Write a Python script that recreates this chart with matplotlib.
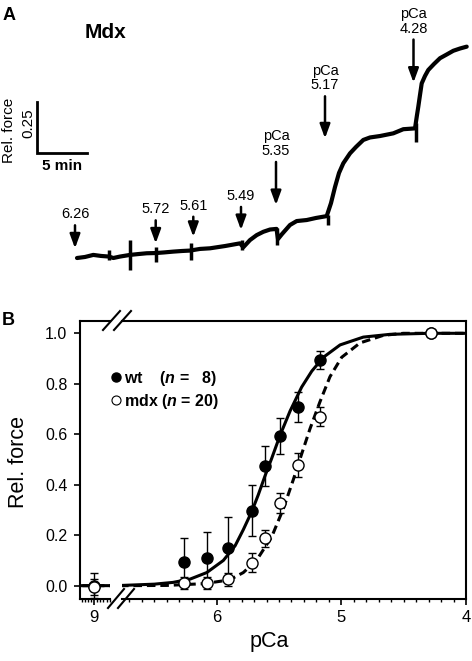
import matplotlib.pyplot as plt
from matplotlib.lines import Line2D
from matplotlib.ticker import FixedLocator, MultipleLocator

plt.rcParams["font.family"] = ["Liberation Sans", "DejaVu Sans"]
plt.rcParams["mathtext.fontset"] = "custom"
plt.rcParams["mathtext.it"] = "Liberation Sans:italic:bold"
plt.rcParams["mathtext.rm"] = "Liberation Sans:bold"

# ---- panel A: force trace of an mdx fibre (time in min, relative force)
trace_t = [0.0, 0.8, 1.63, 2.4, 3.2, 3.63, 4.3, 5.3, 6.1, 6.97, 7.87, 8.7, 9.63,
           10.5, 11.3, 12.3, 13.3, 14.8, 16.3, 16.63, 17.3, 17.97, 18.63, 19.3,
           19.95, 20.1, 20.5, 21.3, 21.97, 22.97, 23.9, 24.97, 25.4, 25.8, 26.2,
           26.63, 27.3, 27.9, 28.63, 29.3, 30.3, 31.63, 32.63, 33.8, 34.0, 34.13,
           34.3, 34.47, 34.8, 35.13, 35.7, 36.3, 36.97, 37.63, 38.3, 38.97]
trace_f = [0.0, 0.005, 0.015, 0.010, 0.007, 0.0, 0.007, 0.015, 0.019, 0.023,
           0.024, 0.027, 0.031, 0.034, 0.036, 0.044, 0.047, 0.058, 0.071, 0.052,
           0.087, 0.111, 0.127, 0.138, 0.141, 0.092, 0.116, 0.160, 0.179, 0.184,
           0.194, 0.203, 0.266, 0.344, 0.412, 0.459, 0.507, 0.538, 0.572, 0.584,
           0.591, 0.604, 0.624, 0.628, 0.693, 0.733, 0.790, 0.846, 0.882, 0.911,
           0.940, 0.968, 0.986, 1.004, 1.015, 1.024]
spike_t = [3.23, 5.3, 7.87, 11.37, 16.47, 20.0, 25.07, 33.9]
spike_lo = [-0.01, -0.058, -0.018, -0.01, 0.039, 0.063, 0.160, 0.563]
spike_hi = [0.039, 0.087, 0.055, 0.073, 0.087, 0.145, 0.208, 0.654]

step_labels = ["6.26", "5.72", "5.61", "5.49", "pCa\n5.35", "pCa\n5.17", "pCa\n4.28"]
step_t = [-0.2, 7.87, 11.63, 16.4, 19.9, 24.8, 33.65]
step_tip = [0.047, 0.071, 0.103, 0.136, 0.257, 0.58, 0.85]
arrow_len = [23, 23, 20, 23, 43, 42, 43]  # pixels

# ---- panel B: force-pCa relation
pca = [9.0, 6.26, 6.08, 5.91, 5.72, 5.61, 5.49, 5.35, 5.17, 4.28]
wt_force = [0.0, 0.095, 0.108, 0.151, 0.297, 0.475, 0.593, 0.709, 0.894, 1.0]
wt_err = [0.05, 0.095, 0.106, 0.122, 0.10, 0.08, 0.073, 0.06, 0.037, 0.0]
mdx_force = [-0.005, 0.01, 0.01, 0.025, 0.091, 0.188, 0.326, 0.478, 0.67, 1.0]
mdx_err = [0.032, 0.025, 0.025, 0.025, 0.037, 0.033, 0.04, 0.046, 0.037, 0.0]

wt_fit_pca = [9.2, 6.76, 6.5, 6.35, 6.213, 6.079, 5.946, 5.852, 5.786, 5.719,
              5.666, 5.612, 5.558, 5.492, 5.411, 5.318, 5.237, 5.144, 5.010,
              4.824, 4.609, 4.3, 4.0]
wt_fit_force = [0.0, 0.001, 0.006, 0.013, 0.026, 0.052, 0.100, 0.158, 0.222,
                0.293, 0.360, 0.435, 0.505, 0.595, 0.692, 0.787, 0.850, 0.905,
                0.954, 0.985, 0.996, 1.0, 1.0]
mdx_fit_pca = [9.2, 6.76, 6.4, 6.1, 5.95, 5.866, 5.786, 5.678, 5.558, 5.465,
               5.385, 5.318, 5.251, 5.171, 5.091, 4.997, 4.850, 4.663, 4.503, 4.0]
mdx_fit_force = [0.0, 0.0, 0.001, 0.008, 0.019, 0.031, 0.052, 0.102, 0.194,
                 0.305, 0.420, 0.522, 0.622, 0.729, 0.828, 0.905, 0.962, 0.992,
                 1.0, 1.0]

W, H = 472, 661


def box(left, top, right, bottom):
    return [left / W, 1 - bottom / H, (right - left) / W, (bottom - top) / H]


def ftext(x, y, s, **kw):
    fig.text(x / W, 1 - y / H, s, ha="center", va="center", **kw)


fig = plt.figure(figsize=(W / 100, H / 100), dpi=100)

# panel A
axA = fig.add_axes(box(0, 0, W, 290))
axA.set_xlim(-7.7, 39.5)
axA.set_ylim(-0.155, 1.25)
axA.axis("off")
axA.plot(trace_t, trace_f, color="k", lw=3, solid_joinstyle="round",
         solid_capstyle="round")
axA.vlines(spike_t, spike_lo, spike_hi, color="k", lw=2.5)
for t, tip, lab, L in zip(step_t, step_tip, step_labels, arrow_len):
    axA.annotate("", xy=(t, tip), xytext=(0, L), textcoords="offset pixels",
                 arrowprops=dict(arrowstyle="-|>,head_length=0.6,head_width=0.22",
                                 color="k", lw=1.8, shrinkA=0, shrinkB=0,
                                 mutation_scale=14))
    axA.annotate(lab, xy=(t, tip), xytext=(0, L + 4), textcoords="offset pixels",
                 ha="center", va="bottom", fontsize=10.5, linespacing=1.05)

# scale bar: 0.25 rel. force by 5 min
axA.plot([-3.97, -3.97, 1.03], [0.757, 0.507, 0.507], color="k", lw=2,
         solid_joinstyle="miter")
ftext(9.5, 130, "Rel. force", fontsize=11, rotation=90)
ftext(28, 123, "0.25", fontsize=11, rotation=90)
ftext(62, 166, "5 min", fontsize=11, fontweight="bold")
ftext(105, 32, "Mdx", fontsize=15, fontweight="bold")
ftext(9, 15, "A", fontsize=13, fontweight="bold")

# panel B: broken x axis (pCa 9 | 6.76 .. 4)
axL = fig.add_axes(box(80, 320.7, 110, 599.3))
axR = fig.add_axes(box(122, 320.7, 466, 599.3))
for ax in (axL, axR):
    ax.plot(wt_fit_pca, wt_fit_force, color="k", lw=2.2, zorder=2)
    ax.plot(mdx_fit_pca, mdx_fit_force, color="k", lw=2.2,
            linestyle=(0, (2.8, 1.6)), zorder=2)
    ax.errorbar(pca, wt_force, yerr=wt_err, fmt="o", color="k", ms=8,
                ecolor="k", elinewidth=1, capsize=2.8, capthick=1, zorder=3)
    ax.errorbar(pca, mdx_force, yerr=mdx_err, fmt="o", mfc="white", mec="k",
                mew=1, ms=8, ecolor="k", elinewidth=1, capsize=2.8, capthick=1,
                zorder=4)
    ax.set_ylim(-0.054, 1.05)
    for sp in ax.spines.values():
        sp.set_linewidth(1.5)
    ax.tick_params(which="major", direction="out", length=4, width=1.2,
                   labelsize=12, pad=4)
    ax.tick_params(axis="y", labelsize=11.5, pad=5)
    ax.tick_params(which="minor", direction="out", length=2.2, width=1)

axL.set_xlim(9.112, 8.872)
axL.spines["right"].set_visible(False)
axL.xaxis.set_major_locator(FixedLocator([9]))
axL.xaxis.set_minor_locator(MultipleLocator(0.025))
axL.set_xticklabels(["9"])
axL.set_yticks([0, 0.2, 0.4, 0.6, 0.8, 1.0])
axL.set_yticklabels(["0.0", "0.2", "0.4", "0.6", "0.8", "1.0"])

axR.set_xlim(6.759, 4.0)
axR.spines["left"].set_visible(False)
axR.xaxis.set_major_locator(FixedLocator([6, 5, 4]))
axR.xaxis.set_minor_locator(MultipleLocator(0.1))
axR.set_xticklabels(["6", "5", "4"])
axR.set_yticks([])

# break marks
for x0 in (103, 114):
    fig.add_artist(Line2D([x0 / W, (x0 + 17) / W], [1 - 330 / H, 1 - 311 / H],
                          color="k", lw=1.5))
for x0 in (108, 118):
    fig.add_artist(Line2D([x0 / W, (x0 + 16) / W], [1 - 608 / H, 1 - 589 / H],
                          color="k", lw=1.5))

ftext(19, 462, "Rel. force", fontsize=15.5, rotation=90)
ftext(269, 641, "pCa", fontsize=15.5)
ftext(8, 320, "B", fontsize=13, fontweight="bold")

handles = [
    Line2D([], [], ls="none", marker="o", ms=6.5, color="k"),
    Line2D([], [], ls="none", marker="o", ms=6.5, mfc="white", mec="k", mew=0.8),
]
labels = [r"wt    ($\mathit{n}$ =   8)", r"mdx ($\mathit{n}$ = 20)"]
fig.legend(handles, labels, loc="upper left",
           bbox_to_anchor=(102 / W, 1 - 361 / H), frameon=False, borderpad=0,
           handlelength=0.7, handletextpad=0.15, labelspacing=0.25,
           prop=dict(size=11.5, weight="bold"))

fig.savefig("out.png", dpi=100)
plt.close(fig)
